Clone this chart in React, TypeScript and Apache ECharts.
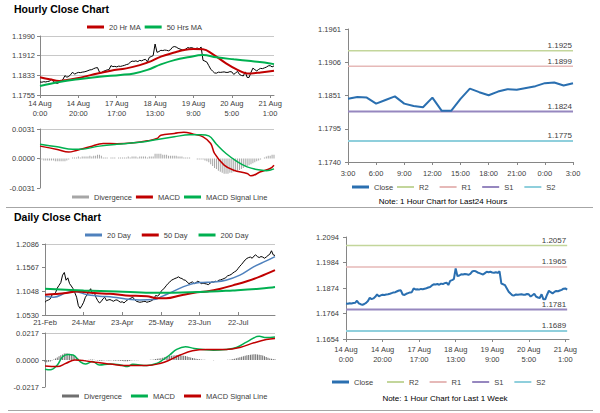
import React, { useEffect, useRef } from "react";
import * as echarts from "echarts";

const FONT = '"Liberation Sans", Arial, sans-serif';
const AXIS = "#868686";
const TXT = "#404040";

// ---------------- hourly data (14 Aug 0:00 .. 21 Aug 3:00) ----------------
const hourlyClose = [
  1.1807, 1.1806, 1.1808, 1.1807, 1.1809, 1.181, 1.1819, 1.1808, 1.1804, 1.1801,
  1.1805, 1.181, 1.1818, 1.1832, 1.1826, 1.1829, 1.1836, 1.1846, 1.1838, 1.1842,
  1.1845, 1.1844, 1.1846, 1.1847, 1.1849, 1.1852, 1.1855, 1.1856, 1.186, 1.1863,
  1.1864, 1.1846, 1.1844, 1.1849, 1.1852, 1.1855, 1.1856, 1.1872, 1.1868, 1.1869,
  1.1867, 1.187, 1.1869, 1.1871, 1.1873, 1.1876, 1.1878, 1.1885, 1.189, 1.1889,
  1.1891, 1.1888, 1.1893, 1.1891, 1.1895, 1.1897, 1.1887, 1.1905, 1.1908, 1.1912,
  1.1958, 1.1925, 1.1928, 1.1933, 1.1932, 1.1934, 1.1933, 1.1931, 1.1935, 1.1945,
  1.1948, 1.1946, 1.1941, 1.1938, 1.1935, 1.1932, 1.1938, 1.1944, 1.1942, 1.1944,
  1.1941, 1.194, 1.1942, 1.1939, 1.1946, 1.1893, 1.189, 1.1886, 1.1872, 1.1858,
  1.185, 1.1843, 1.1842, 1.1846, 1.1845, 1.1846, 1.1847, 1.1845,
  1.1845, 1.1848, 1.1847, 1.1837, 1.1843, 1.1849, 1.1837, 1.1833, 1.1831, 1.1847,
  1.1825, 1.1825, 1.1845, 1.1862, 1.1856, 1.1851, 1.1857, 1.1861, 1.186, 1.1863,
  1.1866, 1.1871, 1.1872, 1.1867, 1.1871,
];
const ma20Hourly = [
  [0, 1.1826], [5, 1.1818], [10, 1.1811], [14, 1.1815], [21, 1.1824], [30, 1.1841],
  [37, 1.1852], [45, 1.1861], [52, 1.1874], [58, 1.189], [63, 1.1908], [70, 1.1924],
  [75, 1.1934], [80, 1.1938], [85, 1.1937], [90, 1.1918], [97, 1.1881], [103, 1.1855],
  [108, 1.1841], [115, 1.1845], [122, 1.1852],
];
const ma50Hourly = [
  [0, 1.1791], [10, 1.1807], [21, 1.1819], [31, 1.1828], [42, 1.1835], [49, 1.1841],
  [56, 1.1855], [63, 1.1877], [70, 1.1894], [77, 1.1905], [85, 1.1914], [92, 1.1905],
  [101, 1.1897], [110, 1.189], [117, 1.1884], [122, 1.1878],
];
const macdHourly = [
  [0, 0.0013], [9, 0.00095], [15, 0.00067], [19, 0.00085], [26, 0.00123], [33, 0.00158],
  [40, 0.00155], [49, 0.00165], [56, 0.00186], [61, 0.0021], [63, 0.00245], [70, 0.00263],
  [75, 0.00277], [80, 0.00256], [85, 0.00228], [89, 0.00158], [91, 0.00053], [96, -0.0007],
  [101, -0.00123], [108, -0.00158], [110, -0.00182], [115, -0.0014], [120, -0.00105],
  [122, -0.0007],
];
const signalHourly = [
  [0, 0.0015], [9, 0.00123], [17, 0.00096], [21, 0.00097], [31, 0.0013], [40, 0.0015],
  [52, 0.0017], [61, 0.002], [70, 0.00228], [78, 0.0025], [84, 0.0025], [88, 0.00238],
  [92, 0.0015], [97, 0.00053], [103, -0.00035], [108, -0.00088], [113, -0.00116],
  [118, -0.00128], [122, -0.00109],
];
const divHourly = [
  -0.0001, -0.0001, -0.0002, -0.0002, -0.0002, -0.0002, -0.0002, -0.0002, -0.0003, -0.0003,
  -0.0003, -0.0003, -0.0003, -0.0003, -0.0002, -0.0001, 0.0, 0.0001, 0.0001, 0.0001,
  0.0002, 0.0001, 0.0002, 0.0002, 0.0002, 0.0002, 0.0003, 0.0002, 0.0003, 0.0003,
  0.0004, 0.0004, 0.0003, 0.0001, 0.0001, 0.0001, 0.0, 0.0001, 0.0001, 0.0001,
  0.0, 0.0001, 0.0001, 0.0001, 0.0001, 0.0001, 0.0002, 0.0001, 0.0002, 0.0002,
  0.0002, 0.0001, 0.0002, 0.0002, 0.0002, 0.0002, 0.0001, 0.0002, 0.0002, 0.0002,
  0.0005, 0.0005, 0.0005, 0.0005, 0.0004, 0.0004, 0.0004, 0.0003, 0.0003, 0.0003,
  0.0003, 0.0003, 0.0002, 0.0002, 0.0002, 0.0001, 0.0001, 0.0001, 0.0001, 0.0,
  0.0, 0.0, -0.0001, -0.0001, -0.0001, -0.0001, -0.0002, -0.0003, -0.0004, -0.0006,
  -0.0008, -0.001, -0.0011, -0.0013, -0.0014, -0.0015, -0.0016, -0.0016, -0.0016, -0.0015,
  -0.0015, -0.0014, -0.0013, -0.0013, -0.0012, -0.0011, -0.001, -0.0009, -0.0008, -0.0007,
  -0.0006, -0.0005, -0.0004, -0.0003, -0.0002, -0.0001, 0.0, 0.0001, 0.0002, 0.0003,
  0.0003, 0.0004, 0.0004,
];
const LAST_HOURS = 25;
const levelNames = ["R2", "R1", "S1", "S2"];
const levels24 = [1.1925, 1.1899, 1.1824, 1.1775];
const levelsWeek = [1.2057, 1.1965, 1.1781, 1.1689];

// ---------------- daily data (21 Feb .. 20 Aug) ----------------
const dailyClose = [
  1.0809, 1.0846, 1.086, 1.0883, 1.0972, 1.099, 1.1017, 1.1121, 1.118, 1.124,
  1.1403, 1.1462, 1.1292, 1.1344, 1.1217, 1.1165, 1.1106, 1.1017, 1.092, 1.0735,
  1.0675, 1.0735, 1.0809, 1.092, 1.0972, 1.1047, 1.1106, 1.0995, 1.1032, 1.092,
  1.0846, 1.0794, 1.0824, 1.0883, 1.092, 1.0846, 1.086, 1.0868, 1.085, 1.0831,
  1.0855, 1.0861, 1.0835, 1.0809, 1.082, 1.0794, 1.0831, 1.086, 1.0883, 1.09,
  1.092, 1.087, 1.0831, 1.082, 1.0809, 1.0815, 1.0824, 1.083, 1.0809, 1.082,
  1.0831, 1.085, 1.0883, 1.0958, 1.0945, 1.0972, 1.1047, 1.108, 1.1121, 1.117,
  1.1217, 1.125, 1.1292, 1.131, 1.133, 1.1344, 1.1366, 1.134, 1.1329, 1.13,
  1.1292, 1.125, 1.1217, 1.124, 1.1255, 1.1217, 1.124, 1.127, 1.125, 1.1217,
  1.123, 1.1217, 1.121, 1.1195, 1.1225, 1.1255, 1.125, 1.127, 1.126, 1.1292,
  1.13, 1.1314, 1.1329, 1.135, 1.1388, 1.14, 1.1418, 1.145, 1.1477, 1.15,
  1.1551, 1.16, 1.1641, 1.169, 1.1737, 1.177, 1.1789, 1.18, 1.1774, 1.182,
  1.1848, 1.181, 1.1789, 1.1811, 1.18, 1.1774, 1.18, 1.1834, 1.186, 1.1938,
  1.1848, 1.1834,
];
const ma20Daily = [
  [0, 1.0943], [5, 1.092], [12, 1.1017], [17, 1.1047], [24, 1.0972], [31, 1.0943],
  [39, 1.092], [46, 1.0883], [54, 1.0861], [62, 1.0868], [67, 1.0943], [73, 1.1047],
  [81, 1.118], [88, 1.124], [96, 1.1255], [103, 1.1292], [111, 1.1403], [119, 1.1589],
  [126, 1.1715], [131, 1.1811],
];
const ma50Daily = [
  [0, 1.0972], [12, 1.101], [18, 1.1047], [28, 1.101], [37, 1.0995], [46, 1.0958],
  [58, 1.0943], [64, 1.0898], [69, 1.0898], [77, 1.0958], [85, 1.1017], [92, 1.1047],
  [100, 1.1106], [107, 1.118], [115, 1.127], [122, 1.1366], [131, 1.1514],
];
const ma200Daily = [
  [0, 1.1106], [22, 1.1069], [41, 1.1047], [60, 1.1017], [69, 1.1017], [88, 1.1032],
  [107, 1.1069], [122, 1.1106], [131, 1.1143],
];
const macdDaily = [
  [0, -0.0074], [3, -0.0079], [7, -0.004], [10, 0.0026], [13, 0.0045], [16, 0.004],
  [20, -0.0013], [23, -0.0032], [27, -0.0013], [31, -0.004], [37, -0.0032], [43, -0.004],
  [47, -0.0053], [50, -0.0034], [58, -0.0045], [64, -0.0026], [67, 0.0], [71, 0.004],
  [75, 0.0085], [80, 0.0106], [85, 0.0093], [90, 0.0085], [96, 0.0079], [103, 0.0085],
  [109, 0.0101], [115, 0.0146], [122, 0.019], [126, 0.018], [131, 0.0185],
];
const signalDaily = [
  [0, -0.0048], [7, -0.0053], [12, -0.0026], [17, 0.0], [22, -0.0005], [30, -0.0021],
  [37, -0.0032], [46, -0.0045], [58, -0.0045], [66, -0.0026], [71, 0.0], [77, 0.004],
  [84, 0.0074], [92, 0.0085], [103, 0.0085], [111, 0.0101], [119, 0.0138], [126, 0.0164],
  [131, 0.0172],
];
const divDaily = [
  -0.0016, -0.0018, -0.0015, -0.0012, -0.0005, 0.0005, 0.0012, 0.002, 0.003, 0.0038,
  0.0045, 0.0052, 0.0055, 0.0053, 0.005, 0.0045, 0.0038, 0.003, 0.002, 0.001,
  0.0002, -0.0005, -0.0008, -0.0006, -0.0003, 0.0002, 0.0005, 0.0004, 0.0002, -0.0002,
  -0.0005, -0.0007, -0.0006, -0.0004, -0.0002, -0.0003, -0.0005, -0.0004, -0.0003, -0.0004,
  -0.0006, -0.0005, -0.0006, -0.0007, -0.0008, -0.001, -0.0011, -0.001, -0.0008, -0.0005,
  -0.0002, -0.0002, -0.0003, -0.0002, -0.0001, 0.0, 0.0001, 0.0001, 0.0, 0.0001,
  0.0002, 0.0003, 0.0005, 0.0008, 0.001, 0.0012, 0.0015, 0.0018, 0.0022, 0.0026,
  0.003, 0.0033, 0.0035, 0.0037, 0.0038, 0.0039, 0.0039, 0.0038, 0.0037, 0.0035,
  0.0032, 0.0029, 0.0025, 0.0021, 0.0017, 0.0014, 0.0011, 0.0008, 0.0006, 0.0004,
  0.0003, 0.0002, 0.0001, 0.0, -0.0001, -0.0001, -0.0002, -0.0001, 0.0, 0.0,
  -0.0001, 0.0, 0.0001, 0.0001, 0.0002, 0.0003, 0.0005, 0.0008, 0.0011, 0.0015,
  0.0019, 0.0023, 0.0027, 0.0031, 0.0035, 0.0038, 0.0041, 0.0043, 0.0045, 0.0046,
  0.0046, 0.0045, 0.0043, 0.004, 0.0036, 0.003, 0.0024, 0.0018, 0.0013, 0.001,
  0.0008, 0.0006,
];

// ---------------- tick labels ----------------
const hourTickLabels = ["14 Aug\n0:00", "14 Aug\n20:00", "17 Aug\n17:00", "18 Aug\n13:00", "19 Aug\n9:00", "20 Aug\n5:00", "21 Aug\n1:00"];
const HOUR_STEP = 20;
const last24TickLabels = ["3:00", "6:00", "9:00", "12:00", "15:00", "18:00", "21:00", "0:00", "3:00"];
const LAST24_STEP = 3;
const dayTickLabels = ["21-Feb", "24-Mar", "23-Apr", "25-May", "23-Jun", "22-Jul"];
const DAY_STEP = 22;

const yTicksHourly = ["1.1755", "1.1833", "1.1912", "1.1990"];
const yTicksHourlyMacd = ["-0.0031", "0.0000", "0.0031"];
const yTicks24 = ["1.1740", "1.1795", "1.1851", "1.1906", "1.1961"];
const yTicksDaily = ["1.0530", "1.1048", "1.1567", "1.2086"];
const yTicksDailyMacd = ["-0.0217", "0.0000", "0.0217"];
const yTicksWeek = ["1.1654", "1.1764", "1.1874", "1.1984", "1.2094"];

// ---------------- styles ----------------
const RED = "#c00000";
const GREEN = "#00b050";
const BLUE20 = "#4f81bd";
const CLOSE_BLUE = "#2a6fb0";
const levelColors = ["#c3d69b", "#e6b9b8", "#9687bf", "#8fcfdc"];
const levelWidths = [1.5, 1.5, 2, 2];

function catAxis(gridIndex: number, count: number, step: number, labels: string[] | null, opt: any = {}) {
  return {
    type: "category",
    gridIndex,
    data: Array.from({ length: count }, (_, i) => String(i)),
    boundaryGap: false,
    axisLine: { show: opt.line !== false, lineStyle: { color: AXIS, width: 1 } },
    axisTick: { show: opt.ticks !== false, interval: step - 1, length: 3, inside: !!opt.inside, lineStyle: { color: AXIS } },
    axisLabel: {
      show: !!labels,
      interval: step - 1,
      formatter: (_v: any, i: number) => (labels ? labels[i / step] ?? "" : ""),
      fontSize: 7.5,
      lineHeight: 10,
      color: TXT,
      fontFamily: FONT,
      margin: opt.margin ?? 3,
    },
    splitLine: { show: false },
  };
}

function valAxis(gridIndex: number, ticks: string[], opt: any = {}) {
  const vals = ticks.map(Number);
  const min = vals[0];
  const max = vals[vals.length - 1];
  const nearest = (v: number) => {
    let best = ticks[0];
    let d = Infinity;
    for (const t of ticks) {
      const dd = Math.abs(Number(t) - v);
      if (dd < d) { d = dd; best = t; }
    }
    return best;
  };
  let split: any = { show: false };
  if (opt.split === "all") split = { show: true, lineStyle: { color: "#c8c8c8", width: 1 } };
  if (opt.split === "top") {
    const cols = ticks.map((_, i) => (i === ticks.length - 1 ? "#c8c8c8" : "rgba(0,0,0,0)"));
    split = { show: true, lineStyle: { color: cols, width: 1 } };
  }
  return {
    type: "value",
    gridIndex,
    min,
    max,
    interval: (max - min) / (ticks.length - 1),
    axisLine: { show: true, lineStyle: { color: AXIS, width: 1 } },
    axisTick: { show: true, length: 3, lineStyle: { color: AXIS } },
    axisLabel: { fontSize: 7.5, color: TXT, fontFamily: FONT, margin: opt.margin ?? 5, formatter: (v: number) => nearest(v) },
    splitLine: split,
  };
}

function lineSeries(name: string, xi: number, data: any[], color: string, width: number, smooth: boolean | number = false) {
  return {
    name,
    type: "line",
    xAxisIndex: xi,
    yAxisIndex: xi,
    data,
    symbol: "none",
    showSymbol: false,
    smooth,
    color,
    lineStyle: { color, width },
    itemStyle: { color },
    emphasis: { disabled: true },
    z: 3,
  };
}

// horizontal support / resistance level drawn across the whole category range
function levelSeries(name: string, xi: number, count: number, level: number, color: string, width: number) {
  const data = Array.from({ length: count }, () => level);
  return {
    ...lineSeries(name, xi, data, color, width),
    z: 2,
    endLabel: {
      show: true,
      formatter: level.toFixed(4),
      align: "right",
      verticalAlign: "bottom",
      distance: 0,
      offset: [-1, -1],
      fontSize: 8,
      color: TXT,
      fontFamily: FONT,
    },
  };
}

function barSeries(name: string, xi: number, data: number[], color: string) {
  return {
    name,
    type: "bar",
    xAxisIndex: xi,
    yAxisIndex: xi,
    data,
    barWidth: 1,
    color,
    itemStyle: { color },
    emphasis: { disabled: true },
    z: 1,
  };
}

const legendBase = {
  padding: 0,
  icon: "rect",
  itemWidth: 17,
  itemHeight: 2,
  itemGap: 9,
  selectedMode: false,
  textStyle: { fontSize: 7.5, color: TXT, fontFamily: FONT },
  formatter: (n: string) => n.split("#")[0],
};

export default function App() {
  const ref = useRef<HTMLDivElement>(null);
  useEffect(() => {
    if (!ref.current) return;
    const chart = echarts.init(ref.current, undefined, { renderer: "svg" });
    const nH = hourlyClose.length;
    const nD = dailyClose.length;
    const last24 = hourlyClose.slice(nH - LAST_HOURS);

    const option: any = {
      animation: false,
      backgroundColor: "#ffffff",
      textStyle: { fontFamily: FONT },
      title: [
        { text: "Hourly Close Chart", left: 14, top: 3, padding: 0, textStyle: { fontSize: 10.5, fontWeight: "bold", color: "#000", fontFamily: FONT } },
        { text: "Daily Close Chart", left: 14, top: 211, padding: 0, textStyle: { fontSize: 10.5, fontWeight: "bold", color: "#000", fontFamily: FONT } },
      ],
      grid: [
        { left: 40, top: 36, width: 234, height: 59 },
        { left: 40, top: 129, width: 234, height: 59 },
        { left: 348, top: 29, width: 225, height: 133 },
        { left: 45, top: 244, width: 230, height: 71 },
        { left: 45, top: 333, width: 230, height: 54 },
        { left: 346, top: 237, width: 223, height: 102 },
      ],
      xAxis: [
        catAxis(0, nH, HOUR_STEP, hourTickLabels, { margin: 3 }),
        catAxis(1, nH, HOUR_STEP, null, { line: false, ticks: false }),
        catAxis(2, LAST_HOURS, LAST24_STEP, last24TickLabels, { margin: 6 }),
        catAxis(3, nD, DAY_STEP, dayTickLabels, { inside: true, margin: 2 }),
        catAxis(4, nD, DAY_STEP, null, { line: false, ticks: false }),
        catAxis(5, nH, HOUR_STEP, hourTickLabels, { margin: 5 }),
      ],
      yAxis: [
        valAxis(0, yTicksHourly, { split: "all", margin: 5 }),
        valAxis(1, yTicksHourlyMacd, { split: "top", margin: 5 }),
        valAxis(2, yTicks24, { margin: 7 }),
        valAxis(3, yTicksDaily, { split: "top", margin: 6 }),
        valAxis(4, yTicksDailyMacd, { split: "top", margin: 6 }),
        valAxis(5, yTicksWeek, { margin: 7 }),
      ],
      legend: [
        { ...legendBase, data: ["20 Hr MA", "50 Hrs MA"], left: 87, top: 23, itemHeight: 3, itemGap: 4 },
        { ...legendBase, data: ["Divergence#h", "MACD#h", "MACD Signal Line#h"], left: 72, top: 193, itemHeight: 3, itemGap: 4 },
        { ...legendBase, data: ["Close#24"], left: 352, top: 183, itemHeight: 3 },
        { ...legendBase, data: levelNames.map((n) => n + "#24"), left: 397, top: 183, itemGap: 11 },
        { ...legendBase, data: ["20 Day", "50 Day", "200 Day"], left: 85, top: 231, itemHeight: 3, itemGap: 11 },
        { ...legendBase, data: ["Divergence#d", "MACD#d", "MACD Signal Line#d"], left: 62, top: 392, itemHeight: 3, itemGap: 9 },
        { ...legendBase, data: ["Close#w"], left: 332, top: 378, itemHeight: 3 },
        { ...legendBase, data: levelNames.map((n) => n + "#w"), left: 387, top: 378, itemGap: 11 },
      ],
      graphic: [
        { type: "line", shape: { x1: 6, y1: 207.5, x2: 593, y2: 207.5 }, style: { stroke: "#a6a6a6", lineWidth: 1 } },
        { type: "line", shape: { x1: 8, y1: 410.5, x2: 593, y2: 410.5 }, style: { stroke: "#a6a6a6", lineWidth: 1 } },
        { type: "text", x: 443, y: 201, style: { text: "Note: 1 Hour Chart for Last24 Hours", align: "center", verticalAlign: "middle", textAlign: "center", textVerticalAlign: "middle", fontSize: 8, fontFamily: FONT, fill: "#000" } },
        { type: "text", x: 445, y: 398, style: { text: "Note: 1 Hour Chart for Last 1 Week", align: "center", verticalAlign: "middle", textAlign: "center", textVerticalAlign: "middle", fontSize: 8, fontFamily: FONT, fill: "#000" } },
      ],
      series: [
        { ...lineSeries("Hourly Price", 0, hourlyClose, "#000000", 1), z: 2 },
        lineSeries("20 Hr MA", 0, ma20Hourly, RED, 2, 0.4),
        lineSeries("50 Hrs MA", 0, ma50Hourly, GREEN, 2, 0.4),
        barSeries("Divergence#h", 1, divHourly, "#a6a6a6"),
        lineSeries("MACD#h", 1, macdHourly, RED, 1.5, 0.4),
        lineSeries("MACD Signal Line#h", 1, signalHourly, GREEN, 1.5, 0.4),
        ...levelNames.map((n, i) => levelSeries(n + "#24", 2, LAST_HOURS, levels24[i], levelColors[i], levelWidths[i])),
        { ...lineSeries("Close#24", 2, last24, CLOSE_BLUE, 2), z: 4 },
        { ...lineSeries("Daily Price", 3, dailyClose, "#000000", 1), z: 2 },
        lineSeries("20 Day", 3, ma20Daily, BLUE20, 1.5, 0.4),
        lineSeries("50 Day", 3, ma50Daily, RED, 2, 0.4),
        lineSeries("200 Day", 3, ma200Daily, GREEN, 2, 0.4),
        barSeries("Divergence#d", 4, divDaily, "#6f6f6f"),
        lineSeries("MACD#d", 4, macdDaily, GREEN, 1.5, 0.4),
        lineSeries("MACD Signal Line#d", 4, signalDaily, RED, 1.5, 0.4),
        ...levelNames.map((n, i) => levelSeries(n + "#w", 5, nH - 1, levelsWeek[i], levelColors[i], levelWidths[i])),
        { ...lineSeries("Close#w", 5, hourlyClose.slice(0, nH - 1), CLOSE_BLUE, 2), z: 4 },
      ],
    };
    chart.setOption(option);
    return () => chart.dispose();
  }, []);
  return <div ref={ref} style={{ position: "fixed", left: 0, top: 0, width: 600, height: 413, background: "#fff" }} />;
}
